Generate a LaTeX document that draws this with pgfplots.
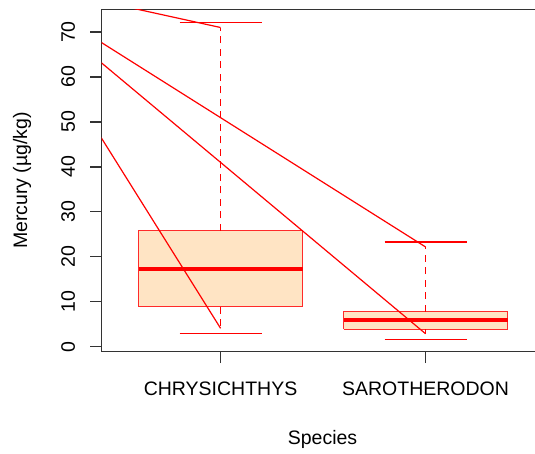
\documentclass[border=0pt]{standalone}
\usepackage{pgfplots}
\pgfplotsset{compat=1.18}
\usepackage{fontspec}
\setmainfont{Liberation Sans}
\definecolor{bisque}{HTML}{FFE4C4}
\definecolor{boxred}{HTML}{FF2A2A}
\definecolor{axgray}{HTML}{333333}
\newcommand{\rf}{\fontsize{19.5}{23}\selectfont}
\begin{document}
\begin{tikzpicture}
\useasboundingbox (-101.7pt,-101.3pt) rectangle (433.3pt,351.7pt);
\begin{axis}[
  at={(0,0)}, anchor=south west, scale only axis,
  width=433.3pt, height=342.4pt,
  xmin=0.42, xmax=2.534, ymin=-1.1, ymax=75.05,
  axis x line*=box, axis y line*=left,
  xtick pos=left, ytick pos=left,
  axis line style={draw=axgray, line width=1.3pt},
  every tick/.style={draw=axgray, line width=1.2pt},
  tick align=outside, major tick length=11.5pt,
  xtick={1,2}, xticklabels={CHRYSICHTHYS, SAROTHERODON},
  ytick={0,10,20,30,40,50,60,70},
  /pgf/number format/assume math mode=true,
  tick label style={font=\rf, text=black},
  yticklabel style={rotate=90, anchor=south, inner sep=0pt, yshift=15pt},
  xticklabel style={anchor=north, inner sep=0pt, yshift=-18.5pt},
  every axis y label/.style={at={(axis description cs:-0.184,0.5)}, rotate=90, anchor=center, font=\rf},
  every axis x label/.style={at={(axis description cs:0.5096,-0.2564)}, anchor=center, font=\rf},
  xlabel={Species}, ylabel={Mercury (µg/kg)},
  clip=true,
]
% boxes (Q1, Q3)
\addplot[fill=bisque, draw=boxred, line width=1.2pt] coordinates {(0.6,8.9) (1.4,8.9) (1.4,25.8) (0.6,25.8) (0.6,8.9)};
\addplot[fill=bisque, draw=boxred, line width=1.2pt] coordinates {(1.6,3.9) (2.4,3.9) (2.4,7.8) (1.6,7.8) (1.6,3.9)};
% medians
\addplot[red, line width=4pt] coordinates {(0.6,17.3) (1.4,17.3)};
\addplot[red, line width=4pt] coordinates {(1.6,5.9) (2.4,5.9)};
% whiskers
\addplot[red, line width=1.2pt, dash pattern=on 7pt off 5.5pt] coordinates {(1,25.8) (1,71.0)};
\addplot[red, line width=1.2pt, dash pattern=on 7pt off 5.5pt] coordinates {(1,8.9) (1,4.1)};
\addplot[red, line width=1.2pt, dash pattern=on 7pt off 5.5pt] coordinates {(2,7.8) (2,22.2)};
\addplot[red, line width=1.2pt, dash pattern=on 7pt off 5.5pt] coordinates {(2,3.9) (2,2.9)};
% caps
\addplot[red, line width=1.2pt] coordinates {(0.8,72.1) (1.2,72.1)};
\addplot[red, line width=1.2pt] coordinates {(0.8,3.0) (1.2,3.0)};
\addplot[red, line width=1.2pt] coordinates {(1.8,23.3) (2.2,23.3)};
\addplot[red, line width=1.2pt] coordinates {(1.8,1.6) (2.2,1.6)};
% crossing lines
\addplot[red, line width=1.2pt] coordinates {(0,81.0) (1,71.0)};
\addplot[red, line width=1.2pt] coordinates {(0,79.7) (2,22.2)};
\addplot[red, line width=1.2pt] coordinates {(0,79.1) (2,2.9)};
\addplot[red, line width=1.2pt] coordinates {(0,76.9) (1,4.1)};
\end{axis}
\end{tikzpicture}
\end{document}
